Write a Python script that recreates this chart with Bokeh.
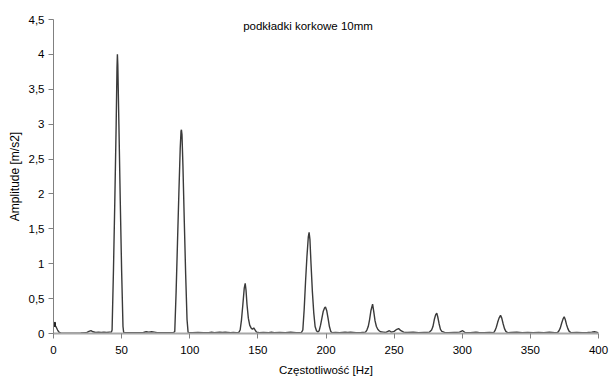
from bokeh.plotting import figure
from bokeh.models import Range1d, FixedTicker, CustomJSTickFormatter, Label
from bokeh.embed import file_html
from bokeh.resources import INLINE

# ---- data ----
title_text = "podkładki korkowe 10mm"
x_label = "Częstotliwość [Hz]"
y_label = "Amplitude [m/s2]"
x_ticks = [0, 50, 100, 150, 200, 250, 300, 350, 400]
y_ticks = [0, 0.5, 1, 1.5, 2, 2.5, 3, 3.5, 4, 4.5]

freq_hz = [
    0, 1, 2, 3, 4, 5.5, 8, 12, 16, 20, 24, 26, 27.5, 29, 31, 33, 35, 37, 39, 41, 42.5,
    43, 44, 45, 46, 46.6, 46.9, 47.2, 48, 49, 50, 51, 51.5,
    54, 58, 62, 66, 68, 70, 72, 74, 76, 80, 84, 88,
    89, 90, 91, 92, 93, 93.6, 93.9, 94.3, 95, 96, 97, 98, 98.8,
    102, 106, 110, 114, 116, 118, 122, 124, 126, 130, 132, 134, 136,
    137, 138, 139, 140, 140.7, 141.3, 142, 143, 144, 145, 146, 147, 148, 149, 151,
    154, 158, 160, 162, 166, 170, 174, 178, 182,
    183, 184, 185, 186, 187, 187.6, 188.2, 189, 190, 191, 192, 193, 194, 195, 196,
    197, 198, 199, 199.6, 200.5, 201.5, 202.5, 203.5, 204.5,
    207, 210, 214, 216, 218, 222, 226, 229,
    230, 231, 232, 233, 234.2, 235, 236, 237, 238, 239, 240, 242, 244, 246.5, 248,
    250, 252, 253.3, 255, 257, 260, 264, 268, 272, 276,
    277.5, 278.5, 279.5, 280.5, 281.3, 282, 283, 284, 285, 287, 290, 294, 298,
    300.3, 302, 306, 310, 312, 316, 320, 323,
    324, 325, 326, 327, 328.1, 329, 330, 331, 332, 333.5, 336, 340, 344, 348, 352,
    356, 360, 364, 368, 370,
    371, 372, 373, 374, 374.8, 375.6, 376.5, 377.5, 378.5, 380, 384, 388, 392, 395,
    397, 398.5, 400,
]
amplitude = [
    0.13, 0.12, 0.09, 0.05, 0.02, 0.005, 0.005, 0.006, 0.005, 0.007, 0.01, 0.03, 0.04, 0.025, 0.015, 0.02, 0.015, 0.02, 0.015, 0.02, 0.02,
    0.05, 0.9, 1.9, 3.0, 3.8, 4.0, 3.85, 3.0, 1.9, 0.9, 0.1, 0.015,
    0.01, 0.012, 0.01, 0.015, 0.025, 0.02, 0.025, 0.02, 0.012, 0.01, 0.01, 0.012,
    0.03, 0.6, 1.3, 2.0, 2.65, 2.9, 2.92, 2.85, 2.4, 1.6, 0.85, 0.2, 0.015,
    0.01, 0.015, 0.01, 0.012, 0.02, 0.01, 0.02, 0.015, 0.02, 0.01, 0.015, 0.01, 0.015,
    0.05, 0.2, 0.42, 0.65, 0.72, 0.62, 0.42, 0.22, 0.12, 0.08, 0.06, 0.08, 0.05, 0.02, 0.01,
    0.015, 0.01, 0.02, 0.012, 0.015, 0.01, 0.02, 0.01, 0.015,
    0.05, 0.35, 0.75, 1.1, 1.38, 1.45, 1.35, 1.0, 0.6, 0.3, 0.1, 0.04, 0.02, 0.04, 0.12,
    0.22, 0.32, 0.37, 0.38, 0.33, 0.22, 0.1, 0.03, 0.01,
    0.015, 0.01, 0.02, 0.015, 0.02, 0.012, 0.015, 0.02,
    0.05, 0.1, 0.2, 0.33, 0.42, 0.32, 0.18, 0.1, 0.06, 0.04, 0.025, 0.02, 0.015, 0.04, 0.02,
    0.03, 0.06, 0.07, 0.04, 0.02, 0.015, 0.02, 0.01, 0.015, 0.02,
    0.05, 0.1, 0.2, 0.27, 0.29, 0.24, 0.14, 0.06, 0.03, 0.015, 0.01, 0.015, 0.02,
    0.04, 0.015, 0.01, 0.02, 0.015, 0.01, 0.015, 0.01,
    0.04, 0.09, 0.16, 0.22, 0.26, 0.22, 0.14, 0.07, 0.03, 0.01, 0.015, 0.02, 0.01, 0.015, 0.01,
    0.015, 0.01, 0.02, 0.012, 0.015,
    0.04, 0.08, 0.15, 0.21, 0.24, 0.2, 0.13, 0.07, 0.03, 0.01, 0.015, 0.01, 0.015, 0.02,
    0.025, 0.02, 0.01,
]
assert len(freq_hz) == len(amplitude)

FONT = "Liberation Sans"

p = figure(width=609, height=378, output_backend="svg", toolbar_location=None,
           x_range=Range1d(0, 400), y_range=Range1d(0, 4.5),
           min_border_left=53, min_border_right=11, min_border_top=19,
           min_border_bottom=44)
p.outline_line_color = None
p.grid.visible = False
p.background_fill_color = "white"
p.border_fill_color = "white"

p.line(freq_hz, amplitude, line_color="#3a3a3a", line_width=1.4)
p.scatter([freq_hz[0]], [amplitude[0]], marker="square", size=4,
          fill_color="#222222", line_color="#222222")

for ax in (p.xaxis[0], p.yaxis[0]):
    ax.major_label_text_font = FONT
    ax.major_label_text_font_size = "11.5px"
    ax.major_label_text_color = "black"
    ax.axis_label_text_font = FONT
    ax.axis_label_text_font_size = "11.5px"
    ax.axis_label_text_font_style = "normal"
    ax.axis_label_text_color = "black"
    ax.minor_tick_line_color = None
    ax.major_tick_in = 0
    ax.major_tick_out = 5
    ax.major_tick_line_color = "#808080"

p.xaxis[0].ticker = FixedTicker(ticks=x_ticks)
p.xaxis[0].axis_label = x_label
p.xaxis[0].axis_line_color = "#a8a8a8"
p.xaxis[0].axis_line_width = 2
p.xaxis[0].major_label_standoff = 7
p.xaxis[0].axis_label_standoff = 7

p.yaxis[0].ticker = FixedTicker(ticks=y_ticks)
p.yaxis[0].formatter = CustomJSTickFormatter(code="return String(tick).replace('.', ',');")
p.yaxis[0].axis_label = y_label
p.yaxis[0].axis_label_text_font_size = "12px"
p.yaxis[0].axis_line_color = "#808080"
p.yaxis[0].major_label_standoff = 4
p.yaxis[0].axis_label_standoff = 4

p.add_layout(Label(x=186.8, y=4.4, text=title_text, text_align="center",
                   text_baseline="middle", text_font=FONT,
                   text_font_size="11.5px", text_color="black"))

open("out.html", "w").write(file_html(p, INLINE))
